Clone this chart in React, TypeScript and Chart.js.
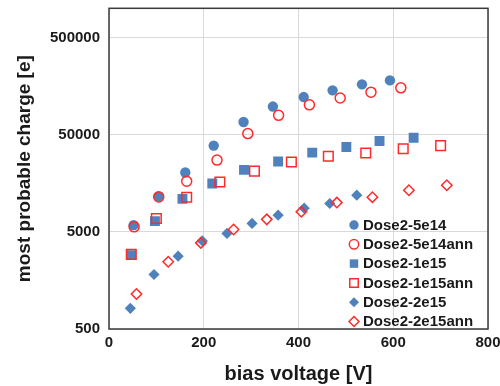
import React, { useEffect, useRef } from 'react';
import { Chart, registerables } from 'chart.js';

Chart.register(...registerables);

const seriesNames = ['Dose2-5e14', 'Dose2-5e14ann', 'Dose2-1e15', 'Dose2-1e15ann', 'Dose2-2e15', 'Dose2-2e15ann'];

const v5e14 = [52, 105, 161, 221, 284, 346, 411, 472, 534, 593];
const q5e14 = [5860, 11640, 20400, 38600, 67500, 97400, 122000, 143000, 164800, 181000];
const v5e14ann = [53, 105, 164, 228, 293, 358, 423, 488, 553, 616];
const q5e14ann = [5630, 11450, 16600, 27400, 51300, 79100, 101400, 119200, 137000, 151700];
const v1e15 = [47, 97, 155, 218, 285, 357, 429, 501, 571, 643];
const q1e15 = [2880, 6440, 10920, 15720, 21700, 26450, 32700, 37300, 43100, 46500];
const v1e15ann = [47, 100, 164, 234, 307, 385, 463, 542, 621, 700];
const q1e15ann = [2930, 6870, 11370, 16300, 21100, 26200, 30000, 32400, 35800, 38600];
const v2e15 = [45, 95, 146, 197, 249, 302, 357, 412, 466, 523];
const q2e15 = [816, 1820, 2810, 4030, 4820, 6100, 7420, 8760, 9790, 11920];
const v2e15ann = [58, 125, 194, 263, 333, 406, 481, 556, 633, 713];
const q2e15ann = [1145, 2460, 3850, 5290, 6720, 8030, 10000, 11370, 13400, 15100];

const yTicks = [500, 5000, 50000, 500000];

const BLUE = '#4F81BD';
const RED = '#FF2A2A';
const FONT = "'Liberation Sans', Arial, sans-serif";

const pts = (xs: number[], ys: number[]) => xs.map((x, i) => ({ x, y: ys[i] }));

function drawMarker(ctx: CanvasRenderingContext2D, style: string, x: number, y: number, r: number, fill: string | null, stroke: string | null, lw: number) {
  ctx.beginPath();
  if (style === 'circle') {
    ctx.arc(x, y, r, 0, Math.PI * 2);
  } else if (style === 'rect') {
    const s = Math.SQRT1_2 * r;
    ctx.rect(x - s, y - s, 2 * s, 2 * s);
  } else {
    ctx.moveTo(x - r, y);
    ctx.lineTo(x, y - r);
    ctx.lineTo(x + r, y);
    ctx.lineTo(x, y + r);
    ctx.closePath();
  }
  if (fill) { ctx.fillStyle = fill; ctx.fill(); }
  if (stroke) { ctx.strokeStyle = stroke; ctx.lineWidth = lw; ctx.stroke(); }
}

const framePlugin = {
  id: 'frameAndLegend',
  beforeDatasetsDraw(chart: any) {
    const { ctx, chartArea: a } = chart;
    ctx.save();
    ctx.strokeStyle = '#3a3a3a';
    ctx.lineWidth = 1.5;
    ctx.strokeRect(a.left, a.top, a.right - a.left, a.bottom - a.top);
    ctx.restore();
  },
  afterDraw(chart: any) {
    const { ctx, chartArea: a } = chart;
    ctx.save();
    const legendSizes: Record<string, number> = { circle: 4.7, rect: 6, rectRot: 5 };
    chart.data.datasets.forEach((ds: any, i: number) => {
      const y = a.top + 216.7 + i * 19.3;
      const mx = a.left + 245;
      const filled = ds.backgroundColor !== 'rgba(0,0,0,0)';
      drawMarker(ctx, ds.pointStyle, mx, y, legendSizes[ds.pointStyle], filled ? ds.backgroundColor : null, filled ? null : ds.borderColor, 1.5);
      ctx.fillStyle = '#1a1a1a';
      ctx.font = `bold 15px ${FONT}`;
      ctx.textAlign = 'left';
      ctx.textBaseline = 'middle';
      ctx.fillText(ds.label, a.left + 254, y + 0.5);
    });
    ctx.restore();
  },
};

export default function App() {
  const ref = useRef<HTMLCanvasElement | null>(null);
  useEffect(() => {
    document.body.style.margin = '0';
    const canvas = ref.current!;
    const mk = (i: number, xs: number[], ys: number[], style: string, filled: boolean, radius: number, order: number) => ({
      label: seriesNames[i],
      data: pts(xs, ys),
      pointStyle: style,
      backgroundColor: filled ? BLUE : 'rgba(0,0,0,0)',
      borderColor: filled ? BLUE : RED,
      borderWidth: filled ? 0 : 1.5,
      pointRadius: radius,
      pointHoverRadius: radius,
      showLine: false,
      order,
    });
    const chart = new Chart(canvas, {
      type: 'scatter',
      data: {
        datasets: [
          mk(0, v5e14, q5e14, 'circle', true, 5.2, 6),
          mk(1, v5e14ann, q5e14ann, 'circle', false, 5, 5),
          mk(2, v1e15, q1e15, 'rect', true, 7, 4),
          mk(3, v1e15ann, q1e15ann, 'rect', false, 6.8, 3),
          mk(4, v2e15, q2e15, 'rectRot', true, 5.6, 2),
          mk(5, v2e15ann, q2e15ann, 'rectRot', false, 5.2, 1),
        ] as any,
      },
      options: {
        responsive: false,
        animation: false,
        devicePixelRatio: 1,
        layout: { padding: { top: 7, right: 12, left: 0, bottom: 0 } },
        plugins: { legend: { display: false }, tooltip: { enabled: false } },
        scales: {
          x: {
            type: 'linear',
            min: 0,
            max: 800,
            ticks: {
              stepSize: 200,
              color: '#1a1a1a',
              font: { family: FONT, size: 15, weight: 'bold' },
              padding: 5,
              callback: (v: any) => String(v),
            },
            grid: { color: '#d9d9d9', lineWidth: 1, drawTicks: false },
            border: { display: false },
            title: {
              display: true,
              text: 'bias voltage [V]',
              color: '#1a1a1a',
              font: { family: FONT, size: 20, weight: 'bold', lineHeight: 1.2 },
              padding: { top: 0, bottom: 0 },
            },
            afterFit: (s: any) => { s.height = 57; s.paddingLeft = 0; s.paddingRight = 0; },
          },
          y: {
            type: 'logarithmic',
            min: 500,
            max: 1000000,
            afterBuildTicks: (s: any) => { s.ticks = yTicks.map((v) => ({ value: v })); },
            ticks: {
              color: '#1a1a1a',
              font: { family: FONT, size: 15, weight: 'bold' },
              padding: 9,
              callback: (v: any) => String(v),
            },
            grid: { color: '#d9d9d9', lineWidth: 1, drawTicks: false },
            border: { display: false },
            title: {
              display: true,
              text: 'most probable charge [e]',
              color: '#1a1a1a',
              font: { family: FONT, size: 19, weight: 'bold', lineHeight: 1.2 },
              padding: { top: 13.6, bottom: 0 },
            },
            afterFit: (s: any) => { s.width = 109; s.paddingTop = 0; s.paddingBottom = 0; },
          },
        },
      } as any,
      plugins: [framePlugin],
    });
    return () => chart.destroy();
  }, []);
  return <canvas ref={ref} width={500} height={386} style={{ display: 'block', width: 500, height: 386 }} />;
}
